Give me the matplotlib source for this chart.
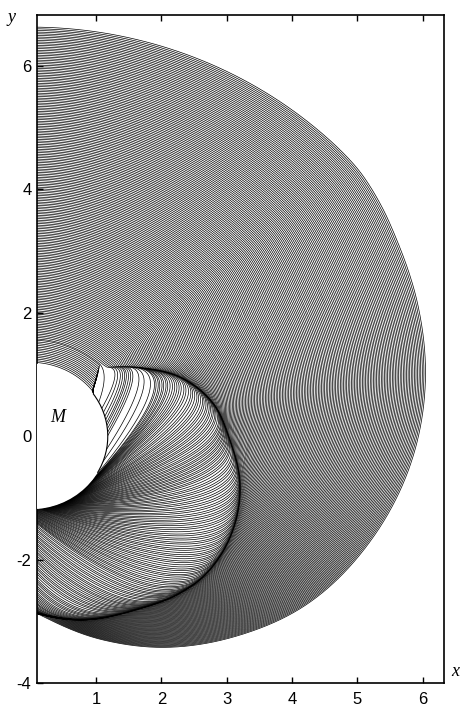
import numpy as np
import matplotlib
matplotlib.use("Agg")
import matplotlib.pyplot as plt
from matplotlib.patches import Circle, Arc

plt.rcParams["axes.unicode_minus"] = False

# body M sits at the origin
body_r = 1.18
outer_r = 6.63
touch_deg = 35.9   # where the innermost lines run into M

# outer edge of the pattern after the turn (polar: degrees, radius)
outer_deg = [50, 45, 40, 35, 30, 20, 9.7, -0.6, -18.0, -33.5, -45.9, -58.2, -71.4, -88.4, -100]
outer_rad = [6.63, 6.63, 6.61, 6.54, 6.45, 6.30, 6.13, 5.92, 5.47, 5.00, 4.51, 4.02, 3.48, 2.86, 2.60]

# inner fold (dark envelope) of the pattern
fold_deg = [50, 45, 42, 33.6, 22.8, 11.0, -1.1, -13.2, -24.1, -33.9, -41.9, -47.9, -60.2, -74.0, -88.4, -100]
fold_rad = [1.58, 1.60, 1.69, 2.01, 2.48, 2.84, 3.05, 3.29, 3.43, 3.49, 3.48, 3.42, 3.24, 3.09, 2.86, 2.72]

# share of the lines that have reached the fold by a given angle
peel_deg = [50, 45, 38, 30, 20, 10, 0, -20, -45, -70, -88.4, -100]
peel_frac = [0.0, 0.0, 0.05, 0.12, 0.19, 0.26, 0.33, 0.47, 0.64, 0.82, 1.0, 1.0]

# where a line ends after leaving the fold (polar), and how far it keeps its heading
loop_deg = [45, 38, 36, 30, 15, 0, -20, -40, -60, -88.4, -100]
end_deg = [28, 0, -40, -52, -62, -72, -84, -95, -97, -97, -97]
end_rad = [1.18, 1.18, 1.18, 1.18, 1.18, 1.18, 1.18, 1.25, 1.90, 2.80, 2.80]
reach = [0.25, 0.35, 0.90, 1.00, 1.00, 1.00, 1.10, 1.10, 1.10, 1.00, 1.00]

x_ticks = [1, 2, 3, 4, 5, 6]
y_ticks = [-4, -2, 0, 2, 4, 6]

n_outer = 190
n_inner = 14


def smooth(xq, xp, fp):
    # cubic hermite through the read points (xp increasing)
    xp = np.asarray(xp, float)
    fp = np.asarray(fp, float)
    m = np.gradient(fp, xp)
    i = np.clip(np.searchsorted(xp, xq) - 1, 0, len(xp) - 2)
    h = xp[i + 1] - xp[i]
    t = (xq - xp[i]) / h
    return ((2 * t**3 - 3 * t**2 + 1) * fp[i] + (t**3 - 2 * t**2 + t) * h * m[i]
            + (-2 * t**3 + 3 * t**2) * fp[i + 1] + (t**3 - t**2) * h * m[i + 1])


def fold_xy(deg):
    r = smooth(np.atleast_1d(deg), fold_deg[::-1], fold_rad[::-1])
    a = np.radians(deg)
    return np.array([r[0] * np.cos(a), r[0] * np.sin(a)])


def step(t):
    t = np.clip(t, 0, 1)
    return t * t * (3 - 2 * t)


def draw(ax, x, y, lw=0.5):
    ax.plot(x, y, color="black", lw=lw, zorder=2)


fig = plt.figure(figsize=(4.64, 7.11), dpi=100)
ax = fig.add_axes([37 / 464, 27.7 / 711, 407.3 / 464, 668.3 / 711])

c0 = fold_rad[0]
j0 = fold_deg[0]
eps = 0.05

th = np.linspace(j0, -100, 900)
c_all = smooth(th, fold_deg[::-1], fold_rad[::-1])
o_all = smooth(th, outer_deg[::-1], outer_rad[::-1])
g_all = np.maximum.accumulate(np.clip(smooth(th, peel_deg[::-1], peel_frac[::-1]), 0, 1))
beta = step((j0 - th) / 12)
tau = step((45 - th) / 25)

# lines that run round M, close in on the fold and then turn inwards
for R in np.linspace(c0, outer_r, n_outer):
    s = (R - c0) / (outer_r - c0)
    th_up = np.linspace(96, j0, 120)
    q = np.clip((s - g_all) / np.maximum(1 - g_all, 1e-6), 0, 1)
    w = q * q * (1 + eps * tau) / (q + eps * tau + 1e-9)
    r = (1 - beta) * R + beta * (c_all + (o_all - c_all) * w)
    peels = s < g_all[-1] - 1e-9
    n = np.argmax(g_all >= s) + 1 if peels else len(th)
    t_deg = np.concatenate([th_up, th[:n]])
    rr = np.concatenate([np.full_like(th_up, R), r[:n]])
    a = np.radians(t_deg)
    x = rr * np.cos(a)
    y = rr * np.sin(a)
    if peels:
        th_t = th[n - 1]
        p = np.array([x[-1], y[-1]])
        d = fold_xy(th_t - 0.5) - fold_xy(th_t)
        d /= np.hypot(*d)
        ctrl = p + np.interp(th_t, loop_deg[::-1], reach[::-1]) * d
        ea = np.radians(np.interp(th_t, loop_deg[::-1], end_deg[::-1]))
        er = np.interp(th_t, loop_deg[::-1], end_rad[::-1])
        end = er * np.array([np.cos(ea), np.sin(ea)])
        u = np.linspace(0, 1, 200)[:, None]
        bez = (1 - u) ** 2 * p + 2 * u * (1 - u) * ctrl + u**2 * end
        x = np.concatenate([x, bez[1:, 0]])
        y = np.concatenate([y, bez[1:, 1]])
    draw(ax, x, y)

# innermost lines that run into M
for R in np.linspace(body_r + 0.02, c0 - 0.02, n_inner):
    th_a = 38 + 10 * (R - body_r) / (c0 - body_r)
    tt = np.linspace(96, touch_deg, 300)
    q = np.clip((tt - touch_deg) / (th_a - touch_deg), 0, 1)
    rr = body_r + (R - body_r) * q**1.5
    a = np.radians(tt)
    draw(ax, rr * np.cos(a), rr * np.sin(a))

ax.add_patch(Circle((0, 0), body_r, fc="white", ec="none", zorder=3))
ax.add_patch(Arc((0, 0), 2 * body_r, 2 * body_r, theta1=-30, theta2=touch_deg,
                 lw=0.8, color="black", zorder=4))
ax.text(0.42, 0.30, "M", fontsize=13, style="italic", family="Liberation Serif",
        ha="center", va="center", zorder=5)

ax.set_xlim(0.097, 6.33)
ax.set_ylim(-4, 6.826)
ax.set_xticks(x_ticks)
ax.set_yticks(y_ticks)
ax.tick_params(axis="x", direction="in", top=True, length=4, width=1, pad=6)
ax.tick_params(axis="y", direction="in", right=False, length=4, width=1, pad=4)
for lab in ax.get_xticklabels() + ax.get_yticklabels():
    lab.set_family("Liberation Sans")
    lab.set_fontsize(12)
for sp in ax.spines.values():
    sp.set_linewidth(1.2)

fig.text(12 / 464, 1 - 18 / 711, "y", fontsize=13, style="italic",
         family="Liberation Serif", ha="center", va="center")
fig.text(455 / 464, 1 - 672 / 711, "x", fontsize=13, style="italic",
         family="Liberation Serif", ha="center", va="center")

fig.savefig("out.png", dpi=100)
